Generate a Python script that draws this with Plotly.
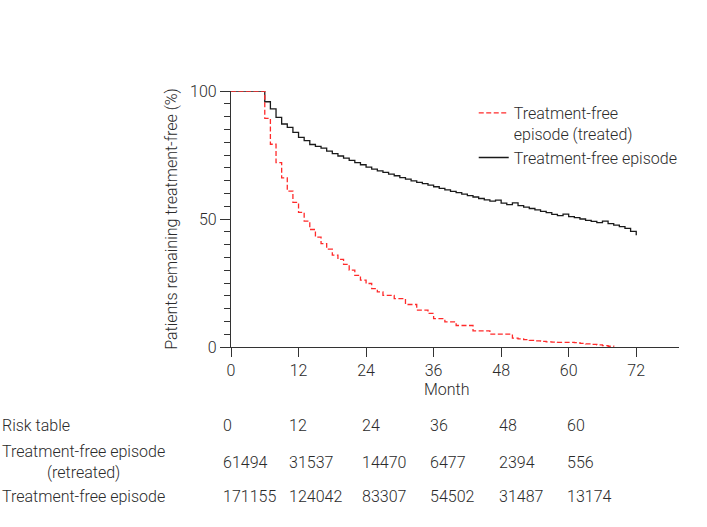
import plotly.graph_objects as go

# ---- data ----
months_black = list(range(0, 73))
surv_black = [100, 100, 100, 100, 100, 100,
              95.8, 93.0, 89.7, 87.1, 85.8, 83.8, 81.9, 80.6, 79.1, 78.4,
              77.7, 76.5, 75.5, 74.6, 73.8, 72.9, 72.0, 71.2, 70.3, 69.5,
              68.8, 68.2, 67.5, 66.9, 66.2, 65.6, 64.9, 64.3, 63.8, 63.2,
              62.6, 62.0, 61.4, 60.8, 60.3, 59.7, 59.1, 58.6, 58.0, 57.5,
              57.0, 57.4, 56.2, 55.6, 56.3, 55.2, 54.6, 54.1, 53.6, 53.0,
              52.5, 51.8, 51.3, 51.9, 50.9, 50.5, 50.0, 49.5, 49.1, 48.6,
              49.2, 48.2, 47.6, 47.0, 46.3, 45.2, 43.7]

months_red = list(range(0, 69))
surv_red = [100, 100, 100, 100, 100, 100,
            89.3, 79.2, 72.0, 66.1, 60.9, 56.5, 52.6, 49.2, 45.9, 42.9,
            40.4, 38.2, 35.9, 34.2, 32.3, 30.0, 28.0, 26.1, 24.8, 22.8,
            21.5, 20.2, 20.2, 18.9, 18.9, 16.6, 16.6, 14.4, 14.4, 13.1,
            11.1, 11.1, 9.8, 9.8, 8.4, 8.4, 8.4, 6.3, 6.3, 6.3,
            5.0, 5.0, 5.0, 5.0, 3.5, 3.2, 2.9, 2.6, 2.4, 2.2,
            2.0, 1.9, 1.8, 1.8, 1.8, 1.7, 1.4, 1.2, 1.0, 0.8,
            0.5, 0.3, 0.1]

x_ticks = [0, 12, 24, 36, 48, 60, 72]
risk_times = ["0", "12", "24", "36", "48", "60"]
risk_retreated = ["61494", "31537", "14470", "6477", "2394", "556"]
risk_all = ["171155", "124042", "83307", "54502", "31487", "13174"]
risk_row_labels = ["Risk table", "Treatment-free episode<br>(retreated)", "Treatment-free episode"]

FONT = "Roboto"
FS = 16
TXT = "#2b2b2b"

# ---- geometry (pixels) ----
W, H = 707, 527
L, R = 231, 679.5
T, B = 91, 346.7


def px_x(p):
    return (p - L) / (R - L)


def px_y(p):
    return (B - p) / (B - T)


fig = go.Figure()
fig.add_trace(go.Scatter(
    x=months_black, y=surv_black, mode="lines", line_shape="hv",
    line=dict(color="#1a1a1a", width=1.3),
    name="Treatment-free episode", legendrank=2, cliponaxis=False))
fig.add_trace(go.Scatter(
    x=months_red, y=surv_red, mode="lines", line_shape="hv",
    line=dict(color="#ff2a2a", width=1.3, dash="5px,2.5px"),
    name="Treatment-free<br>episode (treated)", legendrank=1, cliponaxis=False))

fig.update_layout(
    width=W, height=H,
    margin=dict(l=L, r=W - R, t=T, b=H - B, pad=0),
    paper_bgcolor="white", plot_bgcolor="white",
    font=dict(family=FONT, size=FS, color=TXT, weight=300),
    showlegend=True,
    legend=dict(x=px_x(474), y=px_y(96), xanchor="left", yanchor="top",
                bgcolor="rgba(0,0,0,0)", valign="top", tracegroupgap=0,
                itemwidth=30, font=dict(size=FS, color=TXT)),
    xaxis=dict(range=[0, 79.6], tickvals=x_ticks, ticks="outside", ticklen=9,
               tickwidth=1.2, tickcolor="#333", showline=True, linecolor="#333",
               linewidth=1.2, showgrid=False, zeroline=False,
               tickfont=dict(size=FS, color=TXT)),
    yaxis=dict(range=[0, 100], tickvals=[0, 50, 100], ticks="outside", ticklen=10,
               tickwidth=1.2, tickcolor="#333", showline=True, linecolor="#333",
               linewidth=1.2, showgrid=False, zeroline=False,
               minor=dict(dtick=5, ticks="outside", ticklen=6, tickwidth=1.2,
                          tickcolor="#333", showgrid=False),
               title=dict(text="Patients remaining treatment-free (%)",
                          standoff=8, font=dict(size=FS, color=TXT)),
               tickfont=dict(size=FS, color=TXT)),
)

ann = []
# x-axis title
ann.append(dict(text="Month", x=px_x(447), y=px_y(389), xref="paper", yref="paper",
                xanchor="center", yanchor="middle", showarrow=False))
# risk table row labels
ann.append(dict(text=risk_row_labels[0], x=px_x(0), y=px_y(425), xref="paper", yref="paper",
                xanchor="left", yanchor="middle", showarrow=False, align="left"))
ann.append(dict(text=risk_row_labels[1], x=px_x(0), y=px_y(462), xref="paper", yref="paper",
                xanchor="left", yanchor="middle", showarrow=False, align="center"))
ann.append(dict(text=risk_row_labels[2], x=px_x(0), y=px_y(496), xref="paper", yref="paper",
                xanchor="left", yanchor="middle", showarrow=False, align="left"))
col_px = [221, 287, 360, 428, 497, 565]
for i in range(len(risk_times)):
    ann.append(dict(text=risk_times[i], x=px_x(col_px[i]), y=px_y(425), xref="paper",
                    yref="paper", xanchor="left", yanchor="middle", showarrow=False))
    ann.append(dict(text=risk_retreated[i], x=px_x(col_px[i]), y=px_y(462), xref="paper",
                    yref="paper", xanchor="left", yanchor="middle", showarrow=False))
    ann.append(dict(text=risk_all[i], x=px_x(col_px[i]), y=px_y(496), xref="paper",
                    yref="paper", xanchor="left", yanchor="middle", showarrow=False))
for a in ann:
    a["font"] = dict(size=FS, color=TXT, family=FONT, weight=300)
fig.update_layout(annotations=ann)

fig.write_html("out.html", config={"displayModeBar": False},
               post_script="document.body.style.margin='0';document.body.style.overflow='hidden';")
